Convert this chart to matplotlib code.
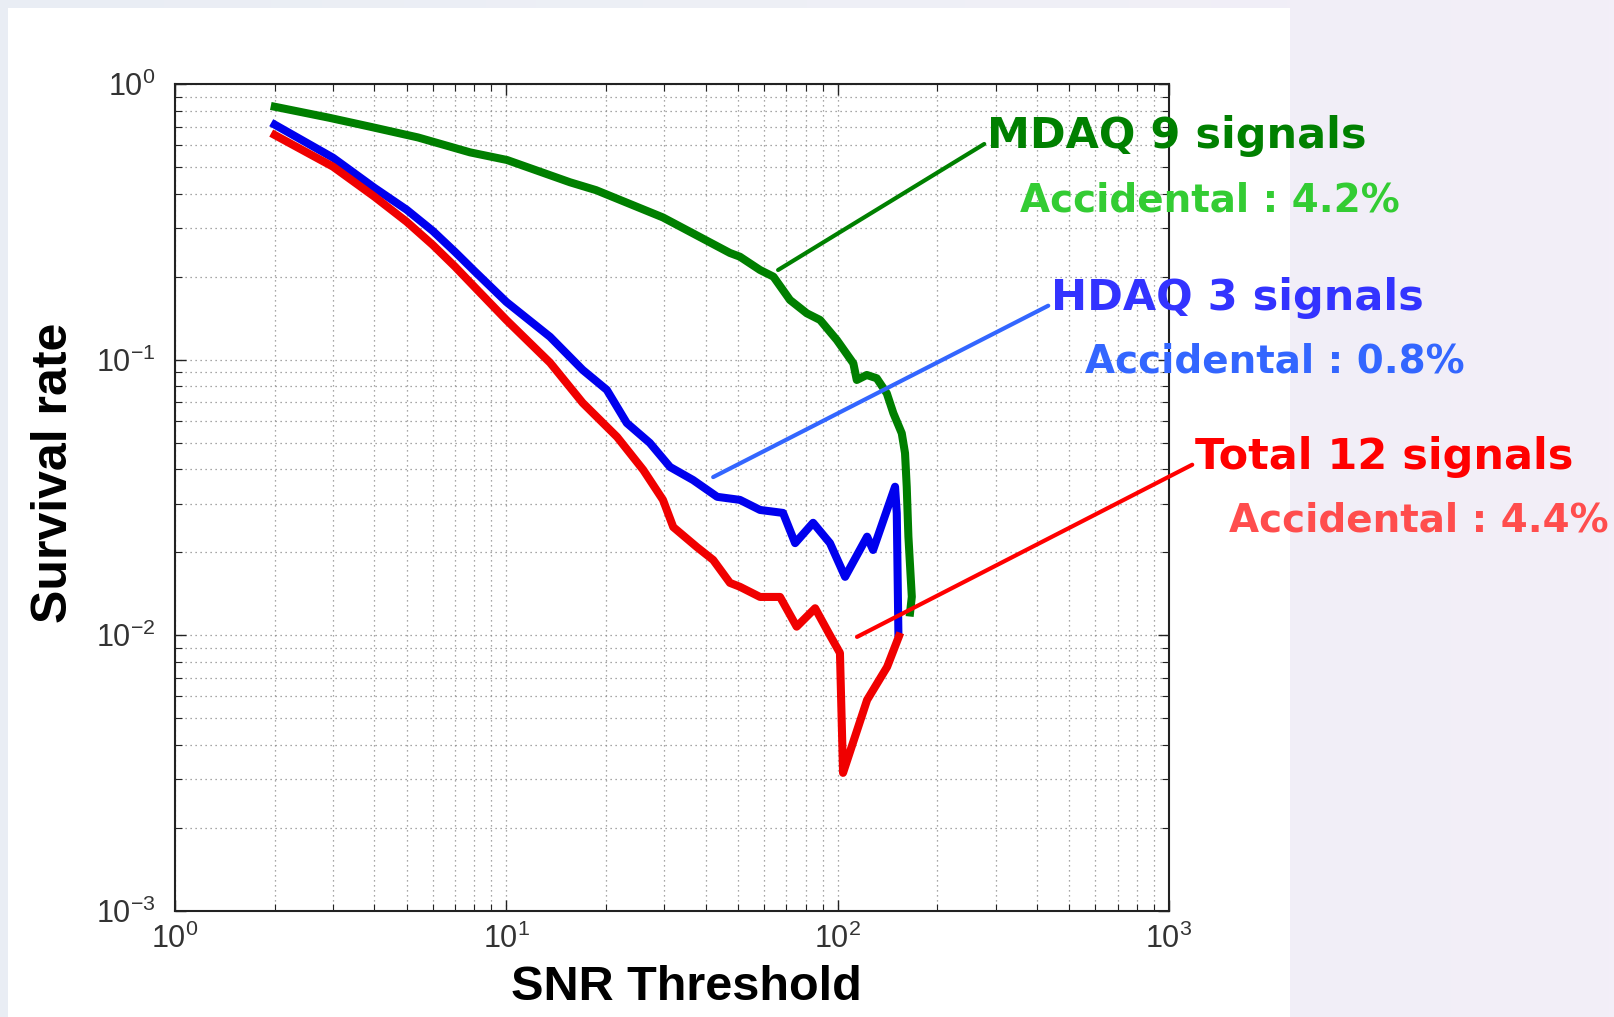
import numpy as np
from matplotlib import pyplot as plt
from matplotlib import patches
from matplotlib import ticker
from matplotlib.colors import LinearSegmentedColormap

plt.rcParams['font.family'] = ['Liberation Sans', 'DejaVu Sans']
plt.rcParams['mathtext.fontset'] = 'custom'
plt.rcParams['mathtext.rm'] = 'Liberation Sans'
plt.rcParams['mathtext.it'] = 'Liberation Sans:italic'
plt.rcParams['mathtext.bf'] = 'Liberation Sans:bold'

# Survival rate vs SNR threshold:
mdaq_snr = [2.0, 2.91, 3.88, 5.41, 7.77, 10.05, 15.57, 18.66, 29.7, 47.3, 50.7, 58.3, 64.0, 71.8, 80.7,
            88.5, 99.4, 111.5, 114.2, 122.4, 131.2, 140.7, 147.3, 156.1, 159.7, 161.6, 163.5, 167.4, 165.4]
mdaq_rate = [0.827, 0.755, 0.70, 0.64, 0.565, 0.53, 0.44, 0.412, 0.328, 0.2438, 0.2363, 0.2115, 0.2,
             0.1646, 0.1473, 0.1393, 0.1179, 0.097, 0.0844, 0.088, 0.0856, 0.0755, 0.0639, 0.0541, 0.0458,
             0.0346, 0.0228, 0.0138, 0.0121]

hdaq_snr = [2.0, 3.0, 4.0, 5.0, 6.0, 7.0, 8.0, 10.0, 13.55, 17.0, 20.1, 23.1, 27.1, 31.2, 36.6, 43.3,
            50.7, 58.3, 68.4, 74.4, 84.3, 94.8, 105.3, 122.7, 127.9, 149.0, 150.8, 152.5]
hdaq_rate = [0.712, 0.54, 0.42, 0.35, 0.293, 0.246, 0.21, 0.162, 0.121, 0.0918, 0.0777, 0.0589, 0.0499,
             0.0408, 0.0366, 0.0318, 0.031, 0.0285, 0.0278, 0.0216, 0.0256, 0.0216, 0.0163, 0.0228, 0.0204,
             0.0346, 0.0277, 0.0102]

total_snr = [2.0, 3.0, 4.0, 5.0, 6.0, 7.0, 8.0, 10.0, 13.55, 17.0, 21.6, 25.9, 29.7, 31.9, 37.6, 42.1,
             47.3, 50.7, 58.3, 67.0, 75.2, 85.5, 94.8, 101.6, 103.8, 122.7, 141.0, 153.0]
total_rate = [0.653, 0.501, 0.39, 0.3166, 0.2606, 0.2175, 0.184, 0.1393, 0.0975, 0.0697, 0.0524, 0.0398,
              0.031, 0.0247, 0.0209, 0.01877, 0.0155, 0.015, 0.01378, 0.01378, 0.01075, 0.01254, 0.0100,
              0.00863, 0.00317, 0.00583, 0.00768, 0.0099]

# Annotation texts and the curve points the leader lines start from:
titles = ['MDAQ 9 signals', 'HDAQ 3 signals', 'Total 12 signals']
accidentals = ['Accidental : 4.2%', 'Accidental : 0.8%', 'Accidental : 4.4%']
anchor_snr = [66.1, 42.1, 114.4]
anchor_rate = [0.2115, 0.0375, 0.00987]

W, H = 1615, 1017
fig = plt.figure(figsize=(W / 100, H / 100), dpi=100)

# Slide background and the white panel behind the plot:
bg = fig.add_axes([0, 0, 1, 1], zorder=-10)
cmap = LinearSegmentedColormap.from_list('slide', ['#e9edf4', '#eef0f6', '#f3eef8'])
bg.imshow(np.linspace(0, 1, 256).reshape(1, -1), aspect='auto', cmap=cmap, extent=[0, 1, 0, 1])
bg.axis('off')
fig.add_artist(patches.Rectangle((8 / W, 0), 1282 / W, 1009 / H, transform=fig.transFigure,
                                 facecolor='white', edgecolor='none', zorder=-5))

ax = fig.add_axes([175 / W, 106 / H, 994 / W, 827 / H])
ax.set_xscale('log')
ax.set_yscale('log')

## Curves:
ax.plot(mdaq_snr, mdaq_rate, color='#007f00', lw=5.8, zorder=3)
ax.plot(hdaq_snr, hdaq_rate, color='#0000ee', lw=5.8, zorder=3)
ax.plot(total_snr, total_rate, color='#f00000', lw=5.8, zorder=3)

ax.set_xlim(1, 1000)
ax.set_ylim(1e-3, 1)

## MATLAB-like ticks and dotted grid:
for axis in (ax.xaxis, ax.yaxis):
    axis.set_major_locator(ticker.LogLocator(base=10, numticks=10))
    axis.set_minor_locator(ticker.LogLocator(base=10, subs=np.arange(2, 10), numticks=20))
    axis.set_minor_formatter(ticker.NullFormatter())
ax.tick_params(which='both', direction='in', top=True, right=True, color='#222222')
ax.tick_params(which='major', length=8, width=1, labelsize=22, labelcolor='#333333')
ax.tick_params(which='minor', length=5, width=0.8)
ax.tick_params(axis='x', pad=9)
ax.tick_params(axis='y', pad=14)
ax.grid(True, which='both', linestyle=(0, (1, 3)), color='#8a8a8a', lw=0.9)
for sp in ax.spines.values():
    sp.set_color('#222222')
    sp.set_linewidth(1.5)

## Axis labels:
fig.text(686 / W, 1 - 988 / H, 'SNR Threshold', ha='center', va='center', fontsize=35, fontweight='bold')
fig.text(54 / W, 1 - 473 / H, 'Survival rate', ha='center', va='center', rotation=90, fontsize=36,
         fontweight='bold')

## Annotations with leader lines:
title_pos = [(987, 136), (1051, 298), (1195, 457)]
sub_pos = [(1020, 201), (1085, 361), (1229, 520)]
title_colors = ['#008000', '#3333ff', '#ff0000']
line_colors = ['#008000', '#3366ff', '#ff0000']
sub_colors = ['#33cc33', '#3366ff', '#ff4d4d']
for i in range(3):
    ax.annotate(titles[i], xy=(anchor_snr[i], anchor_rate[i]), xycoords='data',
                xytext=(title_pos[i][0], H - title_pos[i][1]), textcoords='figure pixels',
                ha='left', va='center', fontsize=31, fontweight='bold', family='DejaVu Sans',
                color=title_colors[i],
                arrowprops=dict(arrowstyle='-', color=line_colors[i], lw=3, shrinkA=0, shrinkB=0,
                                relpos=(0, 0.35)))
    fig.text(sub_pos[i][0] / W, 1 - sub_pos[i][1] / H, accidentals[i], ha='left', va='center',
             fontsize=28, fontweight='bold', family='DejaVu Sans', color=sub_colors[i])

fig.savefig('out.png', dpi=100)
